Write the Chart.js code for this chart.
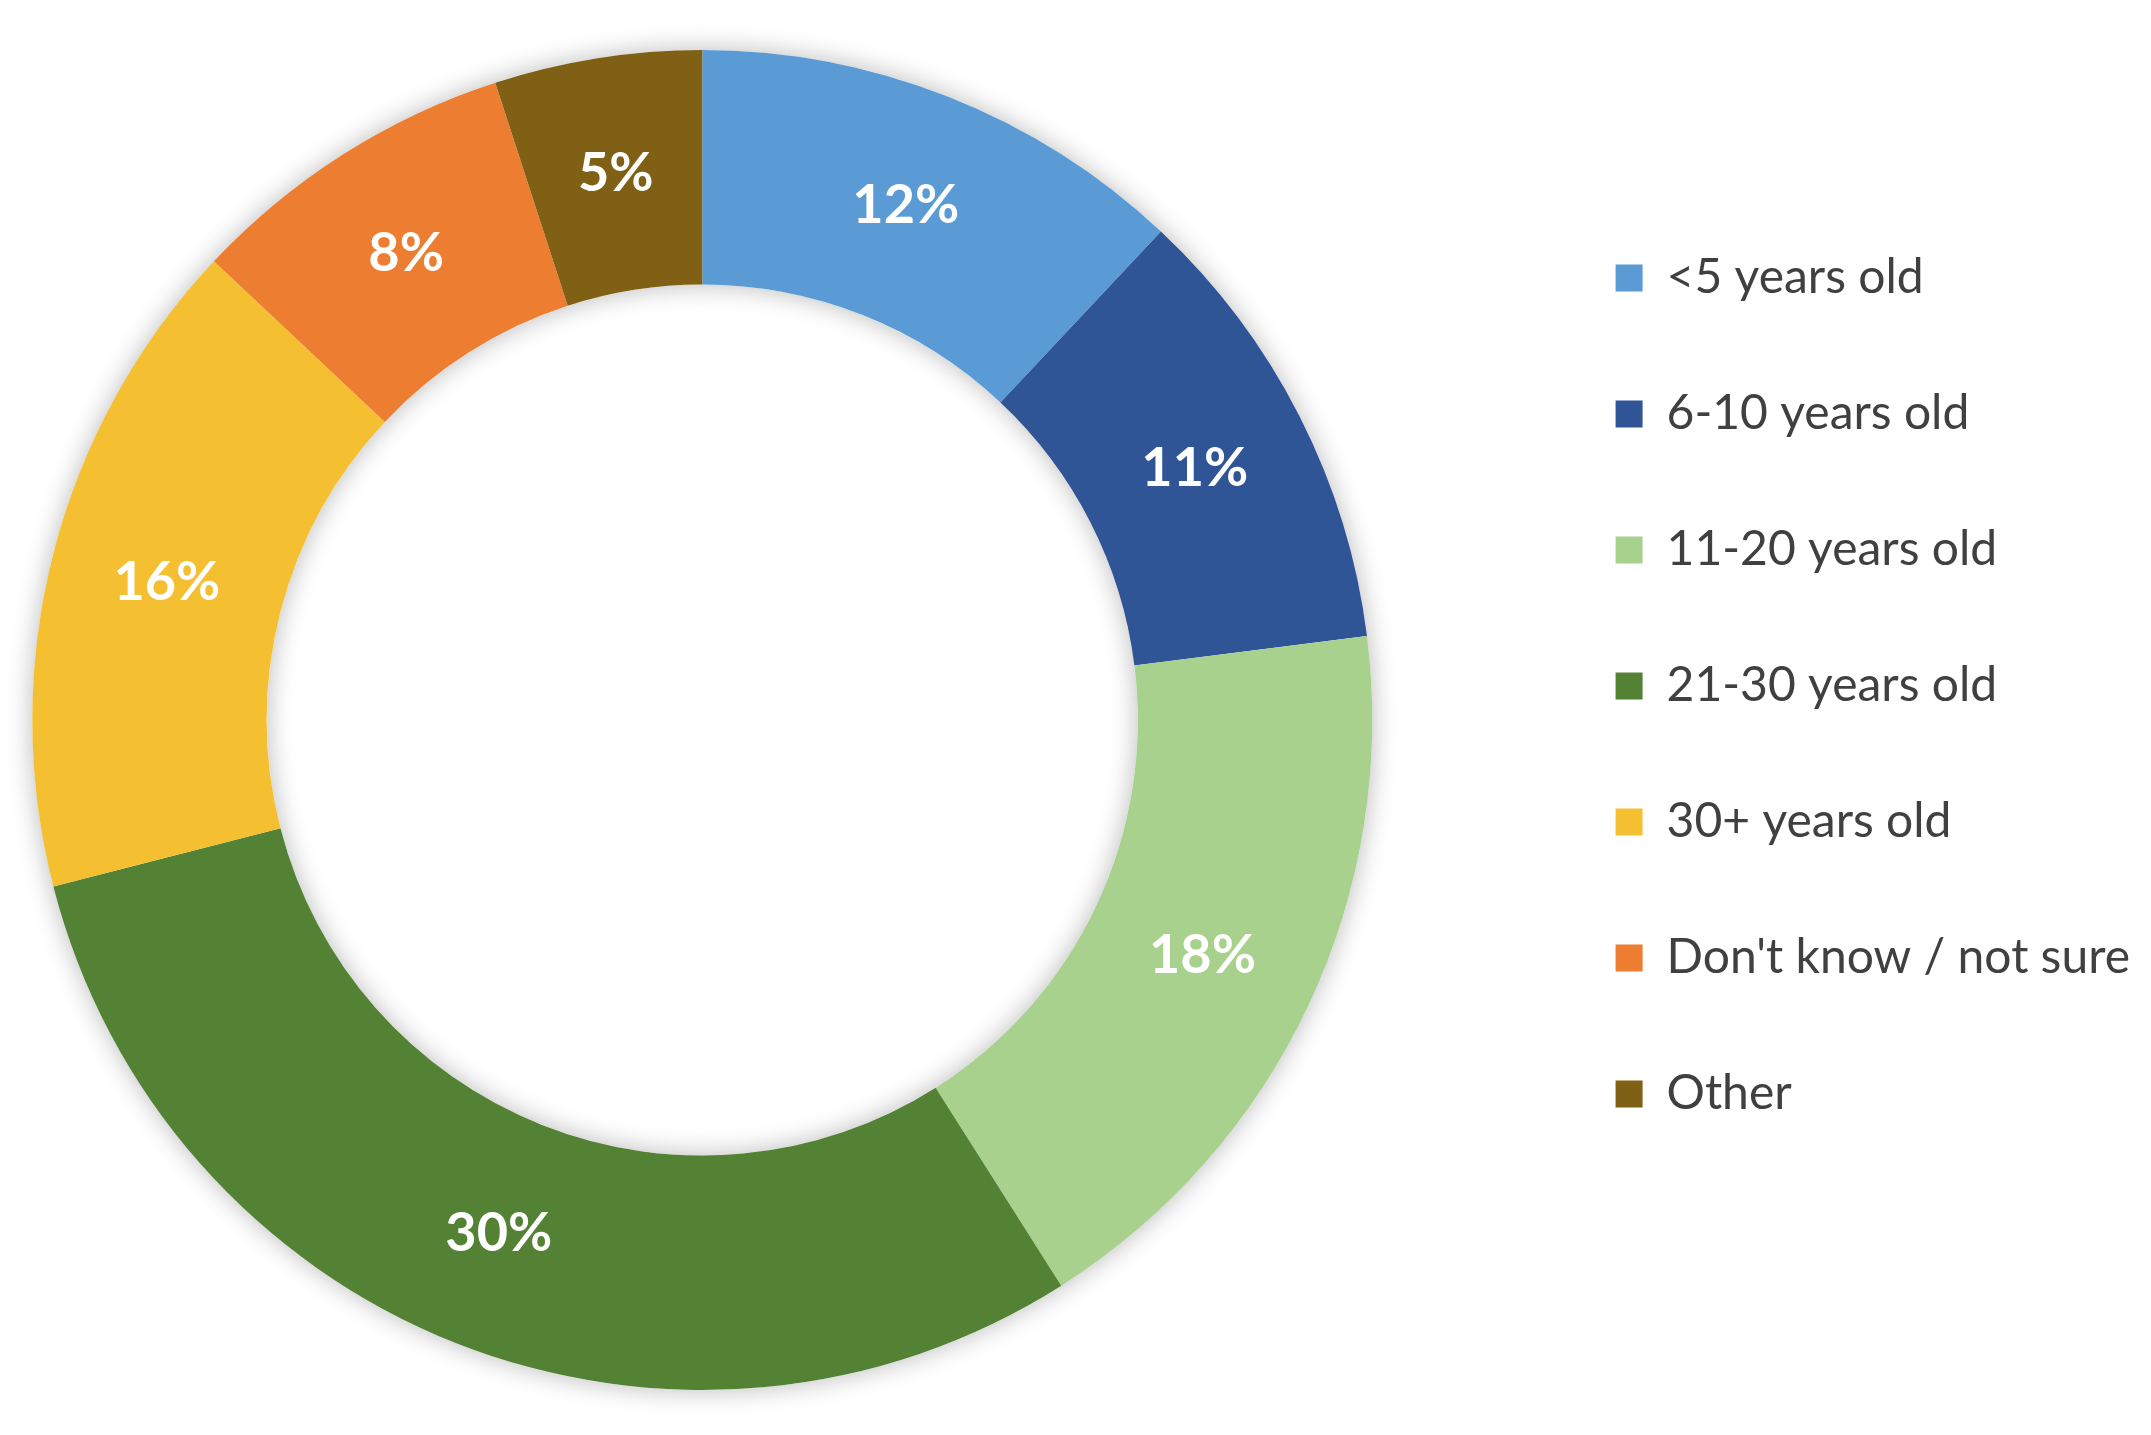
<!DOCTYPE html>
<html>
<head>
<meta charset="utf-8">
<script src="https://cdn.jsdelivr.net/npm/chart.js@4.4.1/dist/chart.umd.min.js"></script>
<style>
  html, body { margin: 0; padding: 0; background: #fff; overflow: hidden; width: 2151px; height: 1435px; }
  /* canvas runs a little past the left edge so the ring sits where the original has it */
  #wrap { width: 2274px; height: 1435px; position: absolute; left: -123px; top: 0; }
</style>
</head>
<body>
<div id="wrap"><canvas id="ageChart"></canvas></div>
<script>
// data
const categories = ["<5 years old", "6-10 years old", "11-20 years old", "21-30 years old", "30+ years old", "Don't know / not sure", "Other"];
const shares = [12, 11, 18, 30, 16, 8, 5];
const sliceColors = ["#5B9BD5", "#2F5597", "#A9D18E", "#548235", "#F5BF32", "#ED7D31", "#7F6014"];

// soft shadow round the ring, drawn under the slices
const ringShadow = {
  id: "ringShadow",
  beforeDatasetsDraw(chart) {
    const arc = chart.getDatasetMeta(0).data[0];
    if (!arc) return;
    const { x, y, outerRadius, innerRadius } = arc.getProps(["x", "y", "outerRadius", "innerRadius"], true);
    const ctx = chart.ctx;
    ctx.save();
    ctx.shadowColor = "rgba(0,0,0,0.28)";
    ctx.shadowBlur = 26;
    ctx.fillStyle = "#ffffff";
    ctx.beginPath();
    ctx.arc(x, y, outerRadius, 0, Math.PI * 2);
    ctx.arc(x, y, innerRadius, 0, Math.PI * 2, true);
    ctx.fill();
    ctx.restore();
  }
};

// percentage labels in the middle of each slice
const sliceLabels = {
  id: "sliceLabels",
  afterDatasetsDraw(chart) {
    const ctx = chart.ctx;
    const meta = chart.getDatasetMeta(0);
    ctx.save();
    ctx.fillStyle = "#ffffff";
    ctx.font = "bold 54px Lato";
    ctx.textAlign = "center";
    ctx.textBaseline = "middle";
    meta.data.forEach((arc, i) => {
      const p = arc.tooltipPosition(true);
      ctx.fillText(shares[i] + "%", p.x, p.y);
    });
    ctx.restore();
  }
};

new Chart(document.getElementById("ageChart"), {
  type: "doughnut",
  data: {
    labels: categories,
    datasets: [{
      data: shares,
      backgroundColor: sliceColors,
      borderWidth: 0
    }]
  },
  options: {
    responsive: true,
    maintainAspectRatio: false,
    animation: false,
    cutout: "65%",
    layout: { padding: { left: 0, right: 11, top: 50, bottom: 45 } },
    plugins: {
      tooltip: { enabled: false },
      legend: {
        position: "right",
        align: "start",
        title: { display: true, text: "", font: { size: 14, lineHeight: 1 }, padding: { top: 102, bottom: 0 } },
        labels: {
          boxWidth: 27,
          boxHeight: 27,
          padding: 88,
          color: "#404040",
          font: { family: "Lato", size: 48 }
        }
      }
    }
  },
  plugins: [ringShadow, sliceLabels]
});
</script>
</body>
</html>
